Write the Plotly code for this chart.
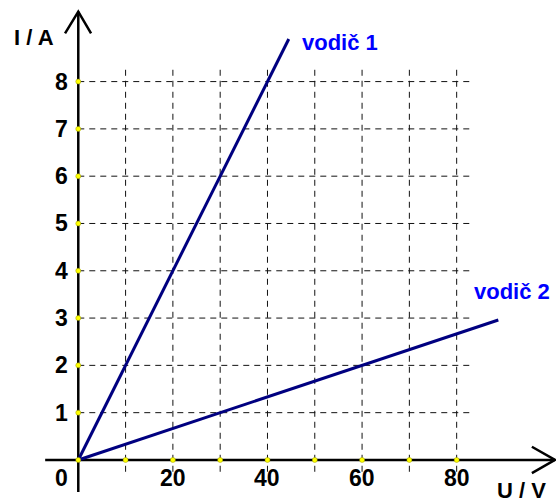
import plotly.graph_objects as go

# data
u1 = [0, 44.5]
i1 = [0, 8.9]
u2 = [0, 88.8]
i2 = [0, 2.96]
x_ticks = [10, 20, 30, 40, 50, 60, 70, 80]
x_labels = [20, 40, 60, 80]
y_ticks = [1, 2, 3, 4, 5, 6, 7, 8]

navy = "#000080"
blue = "#0000ff"
font_b = "Liberation Sans, Arial, sans-serif"

fig = go.Figure()

fig.add_trace(go.Scatter(x=u1, y=i1, mode="lines", line=dict(color=navy, width=3), hoverinfo="skip"))
fig.add_trace(go.Scatter(x=u2, y=i2, mode="lines", line=dict(color=navy, width=3), hoverinfo="skip"))

# yellow tick dots on the axes
fig.add_trace(go.Scatter(x=[0] + x_ticks + [0] * len(y_ticks), y=[0] * (len(x_ticks) + 1) + y_ticks,
                         mode="markers", marker=dict(color="#ffff00", size=5, line=dict(width=0.5, color="#999900")),
                         hoverinfo="skip"))

shapes = []
grid = dict(color="#111111", width=1, dash="6px,5px")
for x in x_ticks:
    shapes.append(dict(type="line", x0=x, x1=x, y0=-0.25, y1=8.35, line=grid, layer="below"))
for y in y_ticks:
    shapes.append(dict(type="line", x0=0, x1=82.8, y0=y, y1=y, line=grid, layer="below"))

ax = dict(color="black", width=2.5)
shapes.append(dict(type="line", x0=-7, x1=100.8, y0=0, y1=0, line=ax, layer="below"))
shapes.append(dict(type="line", x0=0, x1=0, y0=-0.68, y1=9.48, line=ax, layer="below"))
shapes.append(dict(type="path", path="M 95.9 0.28 L 100.8 0 L 95.9 -0.28", line=ax, layer="below"))
shapes.append(dict(type="path", path="M -2.8 9.02 L 0 9.48 L 2.7 9.02", line=ax, layer="below"))

num = dict(size=23)
ann = []
for y in y_ticks:
    ann.append(dict(x=-1.7, y=y, text=str(y), xanchor="right", yanchor="middle", showarrow=False, font=num))
ann.append(dict(x=-1.7, y=-0.38, text="0", xanchor="right", yanchor="middle", showarrow=False, font=num))
for x in x_labels:
    ann.append(dict(x=x, y=-0.38, text=str(x), xanchor="center", yanchor="middle", showarrow=False, font=num))
ann.append(dict(x=93.6, y=-0.64, text="U / V", xanchor="center", yanchor="middle", showarrow=False,
                borderpad=0))
ann.append(dict(x=-9.4, y=8.93, text="I / A", xanchor="center", yanchor="middle", showarrow=False))
ann.append(dict(x=55.3, y=8.82, text="vodič 1", xanchor="center", yanchor="middle", showarrow=False,
                font=dict(color=blue)))
ann.append(dict(x=91.6, y=3.57, text="vodič 2", xanchor="center", yanchor="middle", showarrow=False,
                font=dict(color=blue)))

fig.update_layout(
    width=556, height=503,
    margin=dict(l=0, r=0, t=0, b=0),
    paper_bgcolor="white", plot_bgcolor="white",
    showlegend=False,
    shapes=shapes, annotations=ann,
    font=dict(family=font_b, size=22, color="black", weight="bold"),
    xaxis=dict(range=[-16.55, 101.0], visible=False, fixedrange=True),
    yaxis=dict(range=[-0.91, 9.725], visible=False, fixedrange=True),
)

fig.write_html("out.html", config=dict(displayModeBar=False),
               post_script="document.body.style.margin='0';")
